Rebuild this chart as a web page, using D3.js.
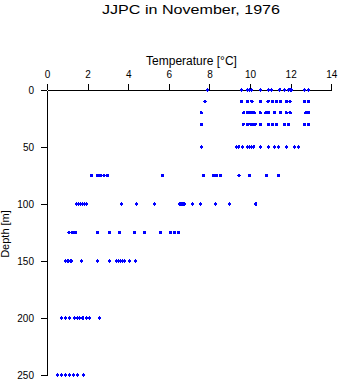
<!DOCTYPE html>
<html>
<head>
<meta charset="utf-8">
<script src="https://cdn.jsdelivr.net/npm/d3@7"></script>
<style>
  html, body { margin: 0; padding: 0; background: #fff; }
  svg { display: block; }
  text { font-family: "Liberation Sans", Arial, sans-serif; fill: #000; }
</style>
</head>
<body>
<div id="chart"></div>
<script>
// Depths (m) and temperatures (°C)
const depths = [0, 10, 20, 30, 50, 75, 100, 125, 150, 200, 250];
const temps0   = [7.90, 9.58, 9.87, 9.96, 10.08, 10.50, 10.91, 11.07, 11.47, 11.71, 11.89, 11.97, 12.03, 12.68, 12.88];
const temps10  = [7.78, 9.58, 9.87, 10.09, 10.50, 10.89, 11.11, 11.30, 11.50, 11.78, 11.97, 12.68, 12.88];
const temps20  = [7.59, 9.69, 9.87, 9.97, 10.07, 10.20, 10.50, 10.78, 10.90, 11.20, 11.50, 11.78, 11.97, 12.75, 12.88];
const temps30  = [7.61, 9.66, 9.87, 10.04, 10.14, 10.25, 10.51, 10.91, 11.11, 11.30, 11.70, 11.89, 12.68, 12.88];
const temps50  = [7.59, 9.33, 9.45, 9.62, 9.87, 9.97, 10.07, 10.19, 10.51, 10.91, 11.20, 11.40, 11.81, 12.19, 12.39];
const temps75  = [2.18, 2.48, 2.64, 2.81, 2.97, 5.68, 7.70, 8.20, 8.36, 8.53, 9.45, 9.97, 10.81, 11.40];
const temps100 = [1.45, 1.55, 1.65, 1.75, 1.85, 1.95, 3.68, 4.39, 5.29, 6.55, 6.65, 6.75, 7.18, 7.57, 8.29, 8.98, 10.29];
const temps125 = [1.08, 1.25, 1.41, 2.48, 3.07, 3.56, 4.30, 4.80, 5.58, 6.08, 6.27, 6.47];
const temps150 = [0.92, 1.00, 1.07, 1.15, 1.22, 1.69, 2.48, 3.07, 3.42, 3.52, 3.62, 3.72, 3.82, 4.06, 4.37];
const temps200 = [0.72, 0.90, 1.10, 1.35, 1.50, 1.61, 1.77, 1.95, 2.10, 2.58];
const temps250 = [0.53, 0.70, 0.90, 1.10, 1.30, 1.50, 1.79];
const tempsByDepth = [temps0, temps10, temps20, temps30, temps50, temps75, temps100, temps125, temps150, temps200, temps250];

const xTicks = [0, 2, 4, 6, 8, 10, 12, 14];
const yTicks = [0, 50, 100, 150, 200, 250];

const titleText = "JJPC in November, 1976";
const xLabel = "Temperature [\u00B0C]";
const yLabel = "Depth [m]";

const points = [];
depths.forEach((d, i) => tempsByDepth[i].forEach(t => points.push({depth: d, temp: t})));

const W = 341, H = 384;
const svg = d3.select("#chart").append("svg").attr("width", W).attr("height", H);

const x = d3.scaleLinear().domain([0, 14]).range([47, 331.3]);
const y = d3.scaleLinear().domain([0, 250]).range([90, 375]);

// Title
svg.append("text")
  .attr("x", 191).attr("y", 14)
  .attr("text-anchor", "middle")
  .attr("font-size", 12.5)
  .attr("textLength", 178)
  .attr("lengthAdjust", "spacingAndGlyphs")
  .text(titleText);

// X axis on top
const gx = svg.append("g")
  .attr("transform", "translate(0,90)")
  .call(d3.axisTop(x).tickValues(xTicks).tickFormat(d3.format("d")).tickSize(6).tickSizeOuter(0).tickPadding(6));
gx.selectAll("text").attr("font-size", 10).style("font-family", "'Liberation Sans', Arial, sans-serif");

// Y axis
const gy = svg.append("g")
  .attr("transform", "translate(47,0)")
  .call(d3.axisLeft(y).tickValues(yTicks).tickFormat(d3.format("d")).tickSize(6).tickSizeOuter(0).tickPadding(7));
gy.selectAll("text").attr("font-size", 10).style("font-family", "'Liberation Sans', Arial, sans-serif");

svg.selectAll(".domain, .tick line").attr("stroke", "#000").attr("shape-rendering", "crispEdges");

// Axis labels
svg.append("text")
  .attr("x", 191.5).attr("y", 65)
  .attr("text-anchor", "middle")
  .attr("font-size", 12)
  .text(xLabel);

svg.append("text")
  .attr("transform", "translate(8.5,234) rotate(-90)")
  .attr("text-anchor", "middle")
  .attr("font-size", 11)
  .text(yLabel);

// Points
svg.append("g")
  .selectAll("circle")
  .data(points)
  .join("circle")
  .attr("cx", d => x(d.temp))
  .attr("cy", d => y(d.depth))
  .attr("r", 1.7)
  .attr("fill", "#0000ff")
  .attr("shape-rendering", "crispEdges");
</script>
</body>
</html>
